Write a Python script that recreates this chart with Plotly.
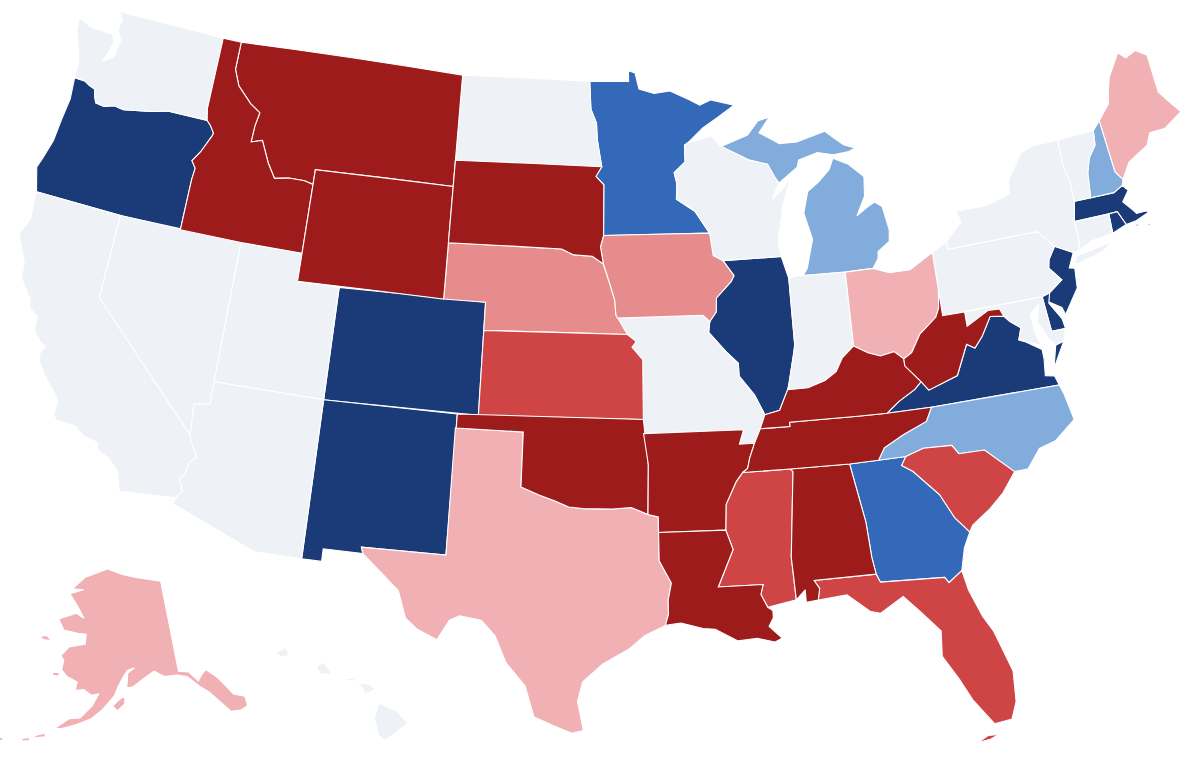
import plotly.graph_objects as go

# Fill colours by rating level
level_colors = ["#1a3b78", "#3468b8", "#82acdc", "#eef1f6", "#f1b0b3", "#e68c8c", "#cf4546", "#9e1b1b"]

states_by_level = [
    ["OR", "CO", "NM", "IL", "VA", "NJ", "DE", "MA", "RI"],
    ["MN", "GA"],
    ["MI", "NH", "NC"],
    ["WA", "CA", "NV", "UT", "AZ", "ND", "WI", "IN", "MO", "PA", "NY", "VT", "CT", "HI", "MD"],
    ["ME", "OH", "TX", "AK"],
    ["NE", "IA"],
    ["KS", "MS", "SC", "FL"],
    ["MT", "ID", "WY", "SD", "OK", "AR", "LA", "AL", "TN", "KY", "WV"],
]

# State outlines: (lon, lat) rings
WA = [[(-122.76,49.0),(-122.5,48.75),(-122.6,48.4),(-122.3,48.0),(-122.4,47.4),(-122.9,47.1),(-122.6,47.9),(-122.8,48.15),(-123.2,48.15),(-124.0,48.17),(-124.73,48.38),(-124.65,47.9),(-124.3,47.3),(-124.1,46.9),(-124.05,46.27),(-123.5,46.26),(-123.2,46.15),(-122.9,46.08),(-122.8,45.85),(-122.65,45.62),(-122.2,45.58),(-121.7,45.7),(-121.2,45.65),(-120.6,45.74),(-119.9,45.83),(-119.3,45.93),(-119.0,46.0),(-116.92,46.0),(-117.04,46.42),(-117.04,49.0)]]
OR = [[(-124.05,46.27),(-123.95,45.5),(-124.07,44.7),(-124.15,43.9),(-124.4,43.2),(-124.55,42.84),(-124.21,42.0),(-120.0,42.0),(-117.03,42.0),(-117.03,43.83),(-116.98,44.24),(-117.22,44.48),(-116.9,44.85),(-116.5,45.5),(-116.46,45.6),(-116.7,45.85),(-116.92,46.0),(-119.0,46.0),(-119.3,45.93),(-119.9,45.83),(-120.6,45.74),(-121.2,45.65),(-121.7,45.7),(-122.2,45.58),(-122.65,45.62),(-122.8,45.85),(-122.9,46.08),(-123.2,46.15),(-123.5,46.26)]]
CA = [[(-124.21,42.0),(-120.0,42.0),(-120.0,39.0),(-114.63,35.0),(-114.57,34.8),(-114.15,34.27),(-114.43,34.05),(-114.53,33.6),(-114.72,33.4),(-114.5,33.0),(-114.72,32.72),(-117.12,32.53),(-117.25,32.85),(-117.4,33.2),(-117.9,33.6),(-118.4,33.75),(-118.5,34.03),(-119.2,34.15),(-119.6,34.4),(-120.5,34.45),(-120.65,34.6),(-120.63,35.1),(-120.9,35.4),(-121.3,35.7),(-121.9,36.3),(-121.95,36.6),(-121.8,36.85),(-122.05,36.95),(-122.4,37.2),(-122.5,37.5),(-122.5,37.78),(-122.95,38.0),(-123.05,38.3),(-123.7,38.93),(-123.8,39.5),(-124.35,40.3),(-124.4,40.45),(-124.1,41.0),(-124.2,41.7)]]
NV = [[(-120.0,42.0),(-114.04,42.0),(-114.04,36.2),(-114.74,36.1),(-114.63,35.0),(-120.0,39.0)]]
ID = [[(-117.04,49.0),(-116.05,49.0),(-116.05,48.0),(-115.7,47.45),(-114.9,46.9),(-114.35,46.65),(-114.47,46.15),(-114.5,45.57),(-113.95,45.7),(-113.45,44.95),(-113.0,44.45),(-112.3,44.55),(-111.5,44.55),(-111.05,44.47),(-111.05,42.0),(-114.04,42.0),(-117.03,42.0),(-117.03,43.83),(-116.98,44.24),(-117.22,44.48),(-116.9,44.85),(-116.5,45.5),(-116.46,45.6),(-116.7,45.85),(-116.92,46.0),(-117.04,46.42)]]
MT = [[(-116.05,49.0),(-104.05,49.0),(-104.05,45.0),(-111.05,45.0),(-111.05,44.47),(-111.5,44.55),(-112.3,44.55),(-113.0,44.45),(-113.45,44.95),(-113.95,45.7),(-114.5,45.57),(-114.47,46.15),(-114.35,46.65),(-114.9,46.9),(-115.7,47.45),(-116.05,48.0)]]
WY = [[(-111.05,45.0),(-104.05,45.0),(-104.05,41.0),(-111.05,41.0)]]
UT = [[(-114.04,42.0),(-111.05,42.0),(-111.05,41.0),(-109.05,41.0),(-109.05,37.0),(-114.05,37.0)]]
AZ = [[(-114.05,37.0),(-109.05,37.0),(-109.05,31.33),(-111.07,31.33),(-114.81,32.5),(-114.72,32.72),(-114.5,33.0),(-114.72,33.4),(-114.53,33.6),(-114.43,34.05),(-114.15,34.27),(-114.57,34.8),(-114.63,35.0),(-114.74,36.1),(-114.04,36.2)]]
CO = [[(-109.05,41.0),(-102.05,41.0),(-102.05,37.0),(-109.05,37.0)]]
NM = [[(-109.05,37.0),(-103.0,37.0),(-103.04,32.0),(-106.62,32.0),(-106.53,31.78),(-108.21,31.78),(-108.21,31.33),(-109.05,31.33)]]
ND = [[(-104.05,49.0),(-97.23,49.0),(-97.15,48.0),(-96.85,47.5),(-96.8,46.9),(-96.56,45.94),(-104.05,45.94)]]
SD = [[(-104.05,45.94),(-96.56,45.94),(-96.85,45.6),(-96.45,45.3),(-96.45,43.5),(-96.6,43.1),(-96.45,42.49),(-97.0,42.76),(-97.9,42.8),(-98.5,43.0),(-104.05,43.0)]]
NE = [[(-104.05,43.0),(-98.5,43.0),(-97.9,42.8),(-97.0,42.76),(-96.45,42.49),(-96.1,41.7),(-95.9,41.2),(-95.85,40.7),(-95.31,40.0),(-102.05,40.0),(-102.05,41.0),(-104.05,41.0)]]
KS = [[(-102.05,40.0),(-95.31,40.0),(-94.9,39.75),(-95.1,39.55),(-94.61,39.11),(-94.62,37.0),(-102.05,37.0)]]
OK = [[(-103.0,37.0),(-94.62,37.0),(-94.43,35.4),(-94.48,33.64),(-95.2,33.9),(-96.0,33.85),(-96.6,33.85),(-97.2,33.85),(-97.9,33.9),(-98.5,34.1),(-99.2,34.3),(-100.0,34.56),(-100.0,36.5),(-103.0,36.5)]]
TX = [[(-103.04,36.5),(-100.0,36.5),(-100.0,34.56),(-99.2,34.3),(-98.5,34.1),(-97.9,33.9),(-97.2,33.85),(-96.6,33.85),(-96.0,33.85),(-95.2,33.9),(-94.48,33.64),(-94.04,33.55),(-94.04,33.0),(-94.04,32.0),(-93.55,31.2),(-93.7,30.6),(-93.7,30.1),(-93.84,29.7),(-94.7,29.35),(-95.3,28.9),(-96.4,28.35),(-97.2,27.7),(-97.4,27.0),(-97.15,25.96),(-97.6,25.85),(-98.3,26.1),(-99.1,26.4),(-99.5,27.5),(-100.3,28.3),(-100.8,29.25),(-101.4,29.77),(-102.3,29.88),(-102.7,29.7),(-103.15,28.98),(-104.0,29.3),(-104.5,29.65),(-104.9,30.6),(-106.53,31.78),(-106.62,32.0),(-103.04,32.0)]]
MN = [[(-97.23,49.0),(-95.15,49.0),(-95.15,49.38),(-94.8,49.3),(-94.6,48.72),(-93.8,48.55),(-92.95,48.62),(-92.0,48.3),(-91.4,48.07),(-90.8,48.24),(-89.6,48.0),(-90.5,47.6),(-91.3,47.25),(-92.1,46.75),(-92.29,46.66),(-92.29,46.07),(-92.87,45.7),(-92.75,45.3),(-92.8,44.75),(-91.9,44.3),(-91.22,43.5),(-96.45,43.5),(-96.45,45.3),(-96.85,45.6),(-96.56,45.94),(-96.8,46.9),(-96.85,47.5),(-97.15,48.0)]]
IA = [[(-96.45,43.5),(-91.22,43.5),(-91.1,42.7),(-90.64,42.5),(-90.15,41.95),(-90.3,41.75),(-91.05,41.2),(-91.1,40.7),(-91.42,40.38),(-91.73,40.61),(-95.77,40.58),(-95.85,40.7),(-95.9,41.2),(-96.1,41.7),(-96.45,42.49),(-96.6,43.1)]]
MO = [[(-95.77,40.58),(-91.73,40.61),(-91.42,40.38),(-91.5,40.0),(-90.75,39.3),(-90.2,38.85),(-90.2,38.4),(-89.55,37.7),(-89.15,36.98),(-89.4,36.5),(-89.7,36.0),(-90.37,36.0),(-90.15,36.5),(-94.62,36.5),(-94.62,37.0),(-94.61,39.11),(-95.1,39.55),(-94.9,39.75),(-95.31,40.0)]]
AR = [[(-94.62,36.5),(-90.15,36.5),(-90.37,36.0),(-89.7,36.0),(-89.95,35.5),(-90.07,35.13),(-90.3,35.0),(-90.6,34.7),(-91.1,33.9),(-91.17,33.0),(-94.04,33.0),(-94.04,33.55),(-94.48,33.64),(-94.43,35.4)]]
LA = [[(-94.04,33.0),(-91.17,33.0),(-90.9,32.3),(-91.6,31.0),(-89.73,31.0),(-89.85,30.65),(-89.6,30.18),(-89.4,30.05),(-89.4,29.8),(-89.6,29.5),(-89.1,29.05),(-89.4,28.93),(-90.1,29.1),(-90.9,29.05),(-91.8,29.5),(-92.3,29.55),(-93.2,29.77),(-93.84,29.7),(-93.7,30.1),(-93.7,30.6),(-93.55,31.2),(-94.04,32.0)]]
MS = [[(-91.17,33.0),(-91.1,33.9),(-90.6,34.7),(-90.3,35.0),(-88.2,35.0),(-88.1,34.9),(-88.47,31.9),(-88.4,30.37),(-89.6,30.18),(-89.85,30.65),(-89.73,31.0),(-91.6,31.0),(-90.9,32.3)]]
TN = [[(-90.3,35.0),(-88.2,35.0),(-85.6,34.98),(-84.32,34.99),(-84.0,35.4),(-83.1,35.77),(-82.0,36.12),(-81.68,36.59),(-83.68,36.6),(-85.0,36.62),(-88.07,36.65),(-88.07,36.5),(-89.4,36.5),(-89.7,36.0),(-89.95,35.5),(-90.07,35.13)]]
KY = [[(-89.4,36.5),(-88.07,36.5),(-88.07,36.65),(-85.0,36.62),(-83.68,36.6),(-83.1,36.95),(-82.3,37.3),(-81.97,37.54),(-82.6,38.17),(-82.6,38.42),(-83.0,38.72),(-83.65,38.63),(-84.2,38.8),(-84.82,39.1),(-85.4,38.73),(-85.75,38.27),(-86.3,38.0),(-87.1,37.8),(-88.03,37.8),(-88.47,37.1),(-89.15,36.98)]]
IL = [[(-90.64,42.5),(-87.8,42.5),(-87.53,41.7),(-87.53,39.35),(-87.6,39.1),(-87.95,38.0),(-88.03,37.8),(-88.47,37.1),(-89.15,36.98),(-89.55,37.7),(-90.2,38.4),(-90.2,38.85),(-90.75,39.3),(-91.5,40.0),(-91.42,40.38),(-91.1,40.7),(-91.05,41.2),(-90.3,41.75),(-90.15,41.95)]]
IN = [[(-87.53,41.7),(-87.2,41.76),(-86.82,41.76),(-84.8,41.72),(-84.82,39.1),(-85.4,38.73),(-85.75,38.27),(-86.3,38.0),(-87.1,37.8),(-88.03,37.8),(-87.95,38.0),(-87.6,39.1),(-87.53,39.35)]]
OH = [[(-84.8,41.72),(-83.45,41.73),(-82.7,41.5),(-81.7,41.5),(-80.52,41.98),(-80.52,40.64),(-80.65,40.0),(-80.85,39.7),(-81.7,39.2),(-82.2,38.6),(-82.6,38.42),(-83.0,38.72),(-83.65,38.63),(-84.2,38.8),(-84.82,39.1)]]
MI = [[(-86.82,41.76),(-84.8,41.72),(-83.45,41.73),(-83.15,42.05),(-83.1,42.3),(-82.5,42.6),(-82.42,43.0),(-82.6,43.85),(-82.95,44.05),(-83.35,43.9),(-83.9,43.65),(-83.4,44.3),(-83.3,45.0),(-84.0,45.5),(-84.75,45.78),(-85.0,45.4),(-85.6,45.0),(-86.2,44.7),(-86.5,43.95),(-86.2,43.0),(-86.6,42.0)],
      [(-90.4,46.55),(-89.0,46.9),(-88.4,47.38),(-87.8,47.47),(-88.4,46.95),(-87.4,46.5),(-86.5,46.5),(-85.0,46.77),(-84.5,46.45),(-84.1,46.2),(-83.55,46.05),(-83.9,45.95),(-84.7,45.9),(-85.5,46.05),(-86.5,45.85),(-86.6,45.6),(-87.6,45.1),(-87.8,45.35),(-88.1,45.8),(-89.0,46.0)]]
WI = [[(-92.29,46.66),(-92.1,46.75),(-90.9,46.95),(-90.4,46.55),(-89.0,46.0),(-88.1,45.8),(-87.8,45.35),(-87.6,45.1),(-87.9,44.7),(-88.0,44.55),(-87.4,44.9),(-87.0,45.25),(-87.5,44.3),(-87.9,43.0),(-87.8,42.5),(-90.64,42.5),(-91.1,42.7),(-91.22,43.5),(-91.9,44.3),(-92.8,44.75),(-92.75,45.3),(-92.87,45.7),(-92.29,46.07)]]
GA = [[(-85.6,34.98),(-83.11,35.0),(-83.35,34.7),(-82.9,34.45),(-81.9,33.5),(-81.4,32.6),(-80.87,32.03),(-81.2,31.5),(-81.45,30.72),(-82.05,30.36),(-82.2,30.57),(-84.86,30.7),(-85.0,31.0),(-85.1,31.6),(-85.18,32.87)]]
AL = [[(-88.2,35.0),(-85.6,34.98),(-85.18,32.87),(-85.1,31.6),(-85.0,31.0),(-87.6,31.0),(-87.4,30.7),(-87.5,30.3),(-88.0,30.25),(-88.0,30.7),(-88.4,30.37),(-88.47,31.9),(-88.1,34.9)]]
FL = [[(-87.6,31.0),(-85.0,31.0),(-84.86,30.7),(-82.2,30.57),(-82.05,30.36),(-81.45,30.72),(-81.3,30.0),(-80.9,29.0),(-80.55,28.4),(-80.05,26.9),(-80.13,25.8),(-80.4,25.2),(-81.1,25.13),(-81.8,26.1),(-82.2,26.9),(-82.75,27.8),(-82.65,28.7),(-83.4,29.5),(-84.0,30.1),(-85.0,29.6),(-85.4,29.7),(-86.3,30.38),(-87.5,30.3),(-87.4,30.7)],
      [(-81.85,24.55),(-81.4,24.75),(-81.0,24.72),(-81.35,24.6)]]
SC = [[(-83.11,35.0),(-82.3,35.2),(-81.05,35.15),(-80.8,34.82),(-79.67,34.8),(-78.55,33.86),(-79.2,33.2),(-79.9,32.7),(-80.7,32.25),(-80.87,32.03),(-81.4,32.6),(-81.9,33.5),(-82.9,34.45),(-83.35,34.7)]]
NC = [[(-84.32,34.99),(-83.11,35.0),(-82.3,35.2),(-81.05,35.15),(-80.8,34.82),(-79.67,34.8),(-78.55,33.86),(-77.95,33.87),(-77.3,34.5),(-76.55,34.65),(-75.55,35.25),(-75.75,36.2),(-75.87,36.55),(-81.68,36.59),(-82.0,36.12),(-83.1,35.77),(-84.0,35.4)]]
VA = [[(-75.87,36.55),(-76.0,36.9),(-76.4,36.97),(-76.3,37.55),(-76.3,37.9),(-77.0,38.3),(-77.25,38.4),(-77.05,38.8),(-77.5,39.1),(-77.72,39.32),(-78.35,39.4),(-78.87,38.77),(-79.3,38.4),(-79.65,38.58),(-80.3,37.55),(-81.68,37.2),(-81.97,37.54),(-82.3,37.3),(-83.1,36.95),(-83.68,36.6),(-81.68,36.59)],
      [(-75.95,37.15),(-75.6,37.6),(-75.25,38.03),(-75.65,37.95)]]
WV = [[(-81.97,37.54),(-82.6,38.17),(-82.6,38.42),(-82.2,38.6),(-81.7,39.2),(-80.85,39.7),(-80.65,40.0),(-80.52,40.64),(-80.52,39.72),(-79.48,39.72),(-79.48,39.2),(-78.4,39.62),(-77.85,39.6),(-77.72,39.32),(-78.35,39.4),(-78.87,38.77),(-79.3,38.4),(-79.65,38.58),(-80.3,37.55),(-81.68,37.2)]]
MD = [[(-79.48,39.72),(-75.79,39.72),(-75.7,38.46),(-75.05,38.45),(-75.25,38.03),(-75.65,37.95),(-75.95,38.3),(-76.25,38.9),(-76.0,39.5),(-76.5,39.2),(-76.45,38.5),(-76.3,38.05),(-77.0,38.3),(-77.25,38.4),(-77.05,38.8),(-77.5,39.1),(-77.72,39.32),(-77.85,39.6),(-78.4,39.62),(-79.48,39.2)]]
DE = [[(-75.79,39.72),(-75.41,39.8),(-75.55,39.45),(-75.1,38.8),(-75.05,38.45),(-75.7,38.46)]]
PA = [[(-80.52,41.98),(-79.76,42.27),(-79.76,42.0),(-75.35,42.0),(-74.7,41.36),(-75.1,40.95),(-75.2,40.65),(-74.72,40.15),(-75.41,39.8),(-75.79,39.72),(-80.52,39.72)]]
NJ = [[(-74.7,41.36),(-73.9,41.0),(-74.25,40.5),(-74.0,40.45),(-74.1,39.75),(-74.9,38.93),(-75.0,39.2),(-75.55,39.5),(-75.41,39.8),(-74.72,40.15),(-75.2,40.65),(-75.1,40.95)]]
NY = [[(-79.76,42.27),(-78.9,42.87),(-79.05,43.27),(-77.5,43.27),(-76.3,43.5),(-76.2,44.0),(-75.3,44.85),(-74.7,45.0),(-73.35,45.0),(-73.4,44.0),(-73.25,43.55),(-73.27,42.75),(-73.5,42.05),(-73.5,41.3),(-73.66,41.0),(-73.9,41.0),(-74.7,41.36),(-75.35,42.0),(-79.76,42.0)],
      [(-74.0,40.6),(-73.75,40.85),(-72.6,40.97),(-71.9,41.07),(-72.5,40.8),(-73.7,40.58)]]
CT = [[(-73.5,42.05),(-71.8,42.02),(-71.85,41.32),(-72.9,41.25),(-73.66,41.0),(-73.5,41.3)]]
RI = [[(-71.8,42.02),(-71.38,42.02),(-71.12,41.5),(-71.85,41.32)]]
MA = [[(-73.27,42.75),(-71.3,42.7),(-70.82,42.87),(-70.6,42.65),(-71.0,42.3),(-70.65,41.95),(-70.5,41.78),(-70.0,41.78),(-70.2,42.07),(-69.95,41.7),(-70.65,41.53),(-71.12,41.5),(-71.38,42.02),(-71.8,42.02),(-73.5,42.05)],
      [(-70.2,41.3),(-69.97,41.3),(-70.05,41.24)],[(-70.8,41.36),(-70.5,41.45),(-70.6,41.35)]]
VT = [[(-73.35,45.0),(-71.5,45.01),(-71.6,44.5),(-72.05,44.1),(-72.3,43.6),(-72.46,42.73),(-73.27,42.75),(-73.25,43.55),(-73.4,44.0)]]
NH = [[(-71.5,45.01),(-71.08,45.3),(-70.98,43.4),(-70.7,43.07),(-70.82,42.87),(-71.3,42.7),(-72.46,42.73),(-72.3,43.6),(-72.05,44.1),(-71.6,44.5)]]
ME = [[(-71.08,45.3),(-70.4,45.8),(-70.25,46.2),(-70.0,46.7),(-69.23,47.46),(-68.9,47.2),(-68.3,47.36),(-67.8,47.07),(-67.8,45.7),(-67.45,45.3),(-67.0,44.8),(-68.0,44.4),(-68.8,44.4),(-69.1,44.0),(-69.8,43.75),(-70.2,43.6),(-70.7,43.07),(-70.98,43.4)]]
AK = [[(-141.0,69.65),(-141.0,60.3),(-139.0,60.0),(-137.5,58.9),(-136.5,59.45),(-135.5,59.8),(-134.0,58.9),(-133.4,58.4),(-131.8,56.6),(-130.0,56.0),(-130.1,55.0),(-131.5,54.8),(-133.2,55.0),(-134.5,56.2),(-136.0,57.5),(-137.5,58.3),(-139.5,59.6),(-141.5,59.95),(-144.0,60.0),(-146.0,60.7),(-148.5,60.0),(-150.5,59.3),(-151.8,59.2),(-151.5,60.7),(-150.0,61.2),(-151.5,61.0),(-152.5,60.3),(-153.5,59.4),(-154.3,58.4),(-156.5,57.0),(-158.5,56.0),(-161.0,55.3),(-163.5,54.7),(-164.8,54.6),(-162.5,55.8),(-160.5,56.0),(-158.5,57.3),(-157.3,58.6),(-158.8,58.4),(-160.3,58.9),(-162.0,58.7),(-161.8,59.6),(-164.0,60.0),(-165.3,60.6),(-165.2,61.6),(-166.0,62.0),(-164.5,63.0),(-161.0,63.5),(-161.0,64.5),(-163.0,64.5),(-166.4,64.6),(-168.1,65.6),(-164.0,66.5),(-162.0,66.1),(-163.7,67.1),(-166.6,68.35),(-163.0,69.0),(-166.2,68.9),(-163.0,70.3),(-156.6,71.35),(-152.0,70.8),(-148.0,70.4)],
      [(-154.6,57.4),(-153.2,58.1),(-152.2,58.4),(-152.3,57.6),(-153.7,56.9)],
      [(-171.7,63.4),(-170.0,63.7),(-168.8,63.3),(-170.3,63.2)],
      [(-167.0,60.2),(-165.7,60.3),(-165.7,59.9),(-167.0,59.9)],
      [(-168.0,53.5),(-166.2,54.0),(-166.2,53.6),(-167.8,53.3)],
      [(-170.0,52.9),(-168.8,53.2),(-168.6,52.9),(-169.8,52.7)],
      [(-174.5,52.4),(-173.0,52.5),(-173.0,52.2),(-174.5,52.1)]]
HI = [[(-155.88,20.26),(-155.2,19.97),(-154.8,19.52),(-155.65,18.92),(-155.9,19.1),(-156.05,19.7)],
      [(-156.7,20.95),(-156.25,20.95),(-156.0,20.75),(-156.4,20.58),(-156.5,20.8)],
      [(-158.27,21.55),(-157.97,21.71),(-157.65,21.3),(-158.1,21.3)],
      [(-159.78,22.07),(-159.4,22.23),(-159.3,21.95),(-159.6,21.9)],
      [(-157.3,21.1),(-156.72,21.17),(-156.87,21.05)]]

outlines = {k: v for k, v in list(globals().items()) if len(k) == 2 and k.isupper() and isinstance(v, list)}


def clockwise(ring):
    ring = list(ring)
    area = sum(x0 * y1 - x1 * y0 for (x0, y0), (x1, y1) in zip(ring, ring[1:] + ring[:1]))
    ring = ring[::-1] if area > 0 else ring
    return ring + ring[:1]


fig = go.Figure()
for color, group in zip(level_colors, states_by_level):
    for code in group:
        lons, lats = [], []
        for ring in outlines[code]:
            closed = clockwise(ring)
            lons += [p[0] for p in closed] + [None]
            lats += [p[1] for p in closed] + [None]
        fig.add_trace(go.Scattergeo(lon=lons[:-1], lat=lats[:-1], mode="lines", fill="toself", fillcolor=color,
                                    line=dict(color="white", width=1.1), name=code, hoverinfo="name",
                                    showlegend=False))

fig.update_geos(projection=dict(type="albers usa", scale=1.006), center=dict(lon=-90.72, lat=38.25),
                bgcolor="white", showland=False, showframe=False,
                showcoastlines=False, showlakes=False, showocean=False, showcountries=False,
                showsubunits=False, domain=dict(x=[0, 1], y=[0, 1]))
fig.update_layout(width=1456, height=762, margin=dict(l=0, r=0, t=0, b=0), paper_bgcolor="white")
fig.write_html("out.html", post_script="document.documentElement.style.overflow='hidden';document.body.style.overflow='hidden';document.body.style.margin='0';")
